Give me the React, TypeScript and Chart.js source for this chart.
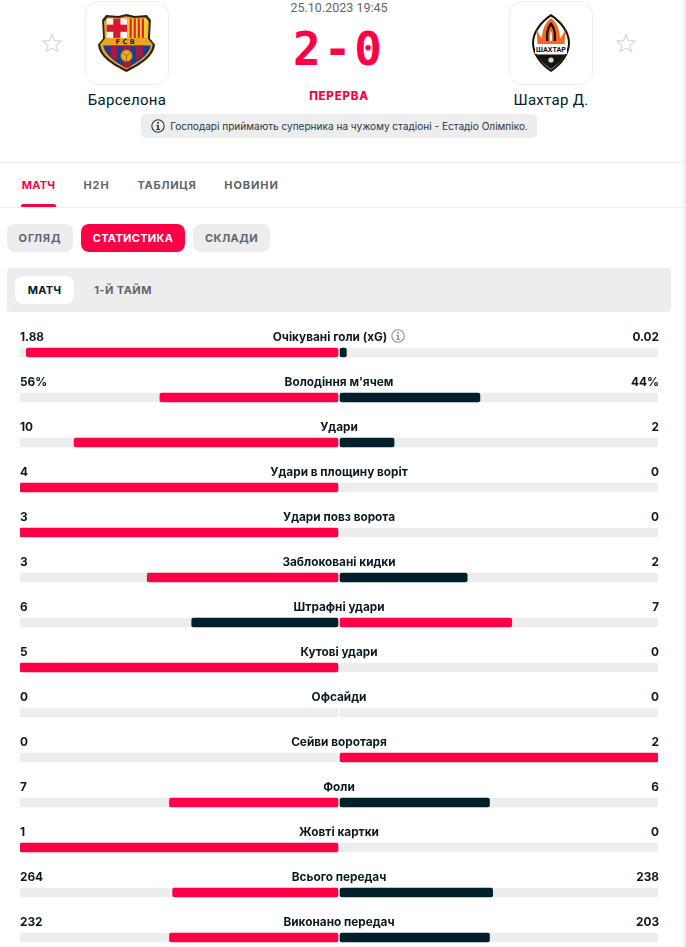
import React, { useEffect, useRef } from "react";
import Chart from "chart.js/auto";

// stat rows, top to bottom
const statNames = [
  "Очікувані голи (xG)",
  "Володіння м'ячем",
  "Удари",
  "Удари в площину воріт",
  "Удари повз ворота",
  "Заблоковані кидки",
  "Штрафні удари",
  "Кутові удари",
  "Офсайди",
  "Сейви воротаря",
  "Фоли",
  "Жовті картки",
  "Всього передач",
  "Виконано передач",
];
const homeLabels = ["1.88", "56%", "10", "4", "3", "3", "6", "5", "0", "0", "7", "1", "264", "232"];
const awayLabels = ["0.02", "44%", "2", "0", "0", "2", "7", "0", "0", "2", "6", "0", "238", "203"];

// bar length as a percentage of one half of the track
const homeShare = [98, 56, 83, 100, 100, 60, 46, 100, 0, 0, 53, 100, 52, 53];
const awayShare = [2, 44, 17, 0, 0, 40, 54, 0, 0, 100, 47, 0, 48, 47];

const tabs = ["МАТЧ", "H2H", "ТАБЛИЦЯ", "НОВИНИ"];

const RED = "#ff0046";
const DARK = "#00202b";
const TRACK = "#ededed";
const GREY_TEXT = "#5c666d";
const FONT = "Inter, sans-serif";

// half of the white gap in the middle, in x axis units (1px)
const GAP = 0.3145;

const rowLabels = {
  id: "rowLabels",
  afterDatasetsDraw(chart: Chart) {
    const { ctx, chartArea, scales } = chart;
    const mid = scales.x.getPixelForValue(0);
    ctx.save();
    ctx.fillStyle = "#0b1a22";
    ctx.font = "700 11.8px " + FONT;
    ctx.textBaseline = "middle";
    statNames.forEach((name, i) => {
      const y = scales.y.getPixelForValue(i) - 15.5;
      ctx.textAlign = "left";
      ctx.fillText(homeLabels[i], chartArea.left, y);
      ctx.textAlign = "right";
      ctx.fillText(awayLabels[i], chartArea.right + 1, y);
      // the xG row shares its centre with the info icon
      ctx.textAlign = "center";
      ctx.fillText(name, i === 0 ? mid - 9 : mid, y);
    });
    ctx.restore();
  },
};

function StatsChart() {
  const canvasRef = useRef<HTMLCanvasElement>(null);

  useEffect(() => {
    if (!canvasRef.current) return;
    const homeLeads = homeShare.map((v, i) => v >= awayShare[i]);
    const barStyle = { grouped: false, barThickness: 9, borderRadius: 2, borderSkipped: false };
    const chart = new Chart(canvasRef.current, {
      type: "bar",
      data: {
        labels: statNames,
        datasets: [
          {
            label: "Home",
            data: homeShare.map((v) => (v > 0 ? [-GAP - v, -GAP] : null)),
            backgroundColor: homeLeads.map((lead) => (lead ? RED : DARK)),
            ...barStyle,
          },
          {
            label: "Away",
            data: awayShare.map((v) => (v > 0 ? [GAP, GAP + v] : null)),
            backgroundColor: homeLeads.map((lead) => (lead ? DARK : RED)),
            ...barStyle,
          },
          {
            label: "Home track",
            data: statNames.map(() => [-GAP - 100, -GAP]),
            backgroundColor: TRACK,
            ...barStyle,
          },
          {
            label: "Away track",
            data: statNames.map(() => [GAP, GAP + 100]),
            backgroundColor: TRACK,
            ...barStyle,
          },
        ],
      },
      options: {
        indexAxis: "y",
        responsive: false,
        animation: false,
        devicePixelRatio: 1,
        layout: { padding: { left: 20, right: 28, top: 0, bottom: 0 } },
        scales: {
          x: { display: false, min: -GAP - 100, max: GAP + 100 },
          y: { display: false },
        },
        plugins: { legend: { display: false }, tooltip: { enabled: false } },
      },
      plugins: [rowLabels],
    } as any);
    return () => chart.destroy();
  }, []);

  return (
    <canvas
      ref={canvasRef}
      width={686}
      height={630}
      style={{ position: "absolute", left: 0, top: 330, display: "block" }}
    />
  );
}

function Star({ x }: { x: number }) {
  return (
    <svg width="20" height="20" viewBox="0 0 20 20" style={{ position: "absolute", left: x, top: 33 }}>
      <path
        d="M10 1.5 L12.5 7.6 L19 8.1 L14 12.3 L15.6 18.6 L10 15.2 L4.4 18.6 L6 12.3 L1 8.1 L7.5 7.6 Z"
        fill="none"
        stroke="#d6d8d8"
        strokeWidth="1.2"
      />
    </svg>
  );
}

function InfoIcon({ x, y, size, color }: { x: number; y: number; size: number; color: string }) {
  return (
    <svg width={size} height={size} viewBox="0 0 14 14" style={{ position: "absolute", left: x, top: y }}>
      <circle cx="7" cy="7" r="6.2" fill="none" stroke={color} strokeWidth="1.1" />
      <rect x="6.2" y="3" width="1.7" height="1.7" fill={color} />
      <path d="M5.4 6 H7.9 V10 H9 V11 H5.2 V10 H6.3 V7 H5.4 Z" fill={color} />
    </svg>
  );
}

function BarcaCrest() {
  const shield = "M28 0 L36 2 L48 1 L52 6 L51 24 L56 30 C55 42 42 50 28 57 C14 50 1 42 0 30 L5 24 L4 6 L8 1 L20 2 Z";
  return (
    <svg width="57" height="58" viewBox="0 0 56 57" style={{ position: "absolute", left: 98, top: 14 }}>
      <path d={shield} fill="#2b2412" />
      <path d={shield} fill="#eea41e" transform="translate(2.2 2.2) scale(0.92)" />
      <rect x="8.5" y="4.5" width="20" height="19" fill="#f4f4f4" />
      <rect x="15" y="4.5" width="7" height="19" fill="#d8182c" />
      <rect x="8.5" y="10.5" width="20" height="7" fill="#d8182c" />
      <rect x="29" y="4.5" width="19.5" height="19" fill="#f6cf2a" />
      {[31, 35, 39, 43].map((x) => (
        <rect key={x} x={x} y="4.5" width="2.2" height="19" fill="#d8283a" />
      ))}
      <text x="28" y="29.6" textAnchor="middle" fontFamily="DejaVu Sans" fontWeight="700" fontSize="6.5" letterSpacing="2.4" fill="#1d1a10">
        FCB
      </text>
      <path d="M5 31 H52 C50 41 38 48 28 53 C18 48 7 41 5 31 Z" fill="#12418d" />
      <path d="M12 31 H19 V46 L12 41.5 Z M24 31 H32 V52 L28 53 L24 51 Z M37 31 H44 V41.5 L37 46 Z" fill="#a11a49" />
      <circle cx="28" cy="41" r="5.8" fill="#eda929" stroke="#7a5a14" strokeWidth="0.7" />
      <path d="M24 38 L28 41 L32 38 M28 41 V46" fill="none" stroke="#7a5a14" strokeWidth="0.7" />
    </svg>
  );
}

function ShakhtarCrest() {
  return (
    <svg width="38" height="58" viewBox="0 0 38 58" style={{ position: "absolute", left: 532, top: 14 }}>
      <path d="M19 0 C30 7 38 18 38 29 C38 40 30 51 19 58 C8 51 0 40 0 29 C0 18 8 7 19 0 Z" fill="#16130f" />
      <path d="M19 2.5 C28.5 9 36 19 36 29 C36 39 28.5 49 19 55.5 C9.5 49 2 39 2 29 C2 19 9.5 9 19 2.5 Z" fill="#ffffff" />
      <path d="M4.5 15 L5.5 30 H32.5 L33.5 15 C32 19 30 22 28 24.5 C28 16 24.5 8 19 4 C13.5 8 10 16 10 24.5 C8 22 6 19 4.5 15 Z" fill="#f26a21" />
      <path d="M19 8 C23 12 24.5 18 24 27 H14 C13.5 18 15 12 19 8 Z" fill="#16130f" />
      <path d="M19 12 C21.5 15 22 20 21.6 27 H16.4 C16 20 16.5 15 19 12 Z" fill="#f26a21" />
      <path d="M19 17 C20 19 20.2 22 20 27 H18 C17.8 22 18 19 19 17 Z" fill="#ffffff" />
      <rect x="3" y="30" width="32" height="10" fill="#ffffff" />
      <text x="19" y="38.2" textAnchor="middle" fontFamily="Roboto" fontWeight="700" fontSize="8" fill="#16130f" textLength="30" lengthAdjust="spacingAndGlyphs">
        ШАХТАР
      </text>
      <path d="M5 40.5 H33 C30.5 46 25 51 19 55 C13 51 7.5 46 5 40.5 Z" fill="#16130f" />
      <circle cx="19" cy="46" r="2.6" fill="#d9d9d9" />
    </svg>
  );
}

function Label(props: {
  text: string;
  x: number;
  w: number;
  y: number;
  size: number;
  weight: number;
  color: string;
  spacing?: number;
  font?: string;
}) {
  const { text, x, w, y, size, weight, color, spacing, font } = props;
  return (
    <div
      style={{
        position: "absolute",
        left: x,
        top: y,
        width: w,
        height: 20,
        lineHeight: "20px",
        textAlign: "center",
        whiteSpace: "nowrap",
        fontFamily: font || FONT,
        fontSize: size,
        fontWeight: weight,
        color,
        letterSpacing: spacing || 0,
      }}
    >
      {text}
    </div>
  );
}

function Box(props: { x: number; y: number; w: number; h: number; bg: string; r?: number; border?: string }) {
  return (
    <div
      style={{
        position: "absolute",
        left: props.x,
        top: props.y,
        width: props.w,
        height: props.h,
        background: props.bg,
        borderRadius: props.r || 0,
        border: props.border,
        boxSizing: "border-box",
      }}
    />
  );
}

const tabX = [21, 83, 137, 224];
const tabW = [35, 27, 60, 55];
const tabSpacing = [0.2, 0.9, 0.7, 0.9];

export default function App() {
  return (
    <div style={{ position: "fixed", left: 0, top: 0, width: 686, height: 947, overflow: "hidden", background: "#fff" }}>
      <Box x={683} y={0} w={3} h={947} bg="#efefef" />

      <Label text="25.10.2023 19:45" x={239} w={200} y={-2} size={12.5} weight={400} color={GREY_TEXT} font="Roboto" />
      <Star x={42} />
      <Star x={616} />
      <Box x={85} y={1} w={84} h={84} bg="#fff" r={13} border="1px solid #eeeeee" />
      <Box x={509} y={1} w={84} h={84} bg="#fff" r={13} border="1px solid #eeeeee" />
      <BarcaCrest />
      <ShakhtarCrest />
      <Label text="Барселона" x={67} w={120} y={90} size={15} weight={400} color={DARK} font="Roboto" spacing={0.3} />
      <Label text="Шахтар Д." x={491} w={120} y={90} size={15} weight={400} color={DARK} font="Roboto" spacing={0.3} />

      <div
        style={{
          position: "absolute",
          left: 239,
          top: 19,
          width: 200,
          height: 60,
          lineHeight: "60px",
          textAlign: "center",
          fontFamily: "DejaVu Sans Mono",
          fontWeight: 700,
          fontSize: 46,
          letterSpacing: 3,
          color: RED,
        }}
      >
        2-0
      </div>
      <Label text="ПЕРЕРВА" x={279} w={120} y={85.5} size={11.5} weight={800} color={RED} spacing={0.8} />

      <Box x={141} y={114} w={396} h={24} bg={TRACK} r={5} />
      <InfoIcon x={151} y={119} size={14} color="#28363d" />
      <Label text="Господарі приймають суперника на чужому стадіоні - Естадіо Олімпіко." x={170} w={358} y={116} size={10.07} weight={400} color="#28363d" font="Inter" />

      <Box x={0} y={162} w={683} h={1} bg="#eeeeee" />
      <Box x={0} y={207} w={683} h={1} bg="#eeeeee" />
      {tabs.map((tab, i) => (
        <Label key={tab} text={tab} x={tabX[i]} w={tabW[i]} y={175} size={11} weight={700} color={i === 0 ? RED : GREY_TEXT} spacing={tabSpacing[i]} />
      ))}
      <div style={{ position: "absolute", left: 21, top: 204, width: 35, height: 3, background: RED, borderRadius: "2px 2px 0 0" }} />

      <Box x={7} y={224} w={66} h={28} bg={TRACK} r={8} />
      <Box x={81} y={224} w={104} h={28} bg={RED} r={8} />
      <Box x={193} y={224} w={77} h={28} bg={TRACK} r={8} />
      <Label text="ОГЛЯД" x={7} w={66} y={228} size={11} weight={700} color={GREY_TEXT} spacing={0.9} />
      <Label text="СТАТИСТИКА" x={81} w={104} y={228} size={11} weight={700} color="#fff" spacing={0.3} />
      <Label text="СКЛАДИ" x={193} w={77} y={228} size={11} weight={700} color={GREY_TEXT} spacing={0.4} />

      <Box x={7} y={268} w={664} h={44} bg={TRACK} r={4} />
      <Box x={15} y={276} w={59} h={28} bg="#fff" r={8} />
      <Label text="МАТЧ" x={15} w={59} y={280} size={11} weight={700} color={DARK} spacing={0.2} />
      <Label text="1-Й ТАЙМ" x={84} w={78} y={280} size={11} weight={700} color={GREY_TEXT} spacing={0.45} />

      <StatsChart />
      <InfoIcon x={391} y={329} size={14} color="#8b9296" />
    </div>
  );
}
